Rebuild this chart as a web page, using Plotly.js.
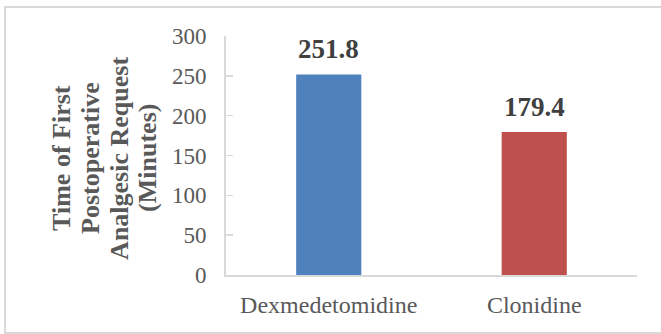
<!DOCTYPE html>
<html>
<head>
<meta charset="utf-8">
<script src="https://cdn.plot.ly/plotly-3.0.1.min.js"></script>
<style>
  html, body { margin: 0; padding: 0; background: #ffffff; }
  #wrap { position: relative; width: 661px; height: 334px; overflow: hidden; }
  #chart { position: absolute; left: 0; top: 0; width: 661px; height: 334px; }
  #frame { position: absolute; left: 4px; top: 6px; width: 720px; height: 324px;
           border: 2px solid #d9d9d9; pointer-events: none; }
</style>
</head>
<body>
<div id="wrap">
  <div id="chart"></div>
  <div id="frame"></div>
</div>
<script>
const categories = ["Dexmedetomidine", "Clonidine"];
const values = [251.8, 179.4];
const barColors = ["#4F81BD", "#C0504D"];
const yTickVals = [0, 50, 100, 150, 200, 250, 300];
const yTitleLines = ["Time of First", "Postoperative", "Analgesic Request", "(Minutes)"];

const serif = "'Liberation Serif', 'Times New Roman', serif";

const trace = {
  type: "bar",
  x: categories,
  y: values,
  marker: { color: barColors, line: { width: 0 } },
  width: 0.317,
  hoverinfo: "skip"
};

const labelAnnotations = categories.map((c, i) => ({
  x: c, y: values[i], xref: "x", yref: "y",
  text: "<b>" + values[i].toFixed(1) + "</b>",
  showarrow: false, yanchor: "bottom", yshift: 8,
  font: { family: serif, size: 27, color: "#404040" }
}));

// y-axis title, one line per annotation so the line spacing can follow the reference
const titleX = [62, 91, 120, 148];
const titleAnnotations = yTitleLines.map((t, i) => ({
  xref: "paper", yref: "paper",
  x: (titleX[i] - 226) / 411, y: 0.49,
  xanchor: "center", yanchor: "middle",
  text: "<b>" + t + "</b>",
  textangle: -90, showarrow: false,
  font: { family: serif, size: 26, color: "#595959" }
}));

const layout = {
  width: 661, height: 334,
  margin: { l: 226, r: 24, t: 36, b: 59, pad: 0 },
  paper_bgcolor: "#ffffff",
  plot_bgcolor: "#ffffff",
  showlegend: false,
  xaxis: {
    type: "category",
    showgrid: false, zeroline: false,
    showline: true, linecolor: "#d9d9d9", linewidth: 2,
    ticks: "",
    ticklabelstandoff: 7,
    tickfont: { family: serif, size: 24, color: "#595959" },
    fixedrange: true
  },
  yaxis: {
    range: [0, 300],
    tickvals: yTickVals,
    showgrid: false, zeroline: false,
    showline: true, linecolor: "#d9d9d9", linewidth: 2,
    ticks: "inside", ticklen: 7, tickwidth: 1.5, tickcolor: "#d9d9d9",
    ticklabelstandoff: 13,
    tickfont: { family: serif, size: 23, color: "#595959" },
    fixedrange: true
  },
  annotations: labelAnnotations.concat(titleAnnotations)
};

Plotly.newPlot("chart", [trace], layout, { staticPlot: true, displayModeBar: false });
</script>
</body>
</html>
